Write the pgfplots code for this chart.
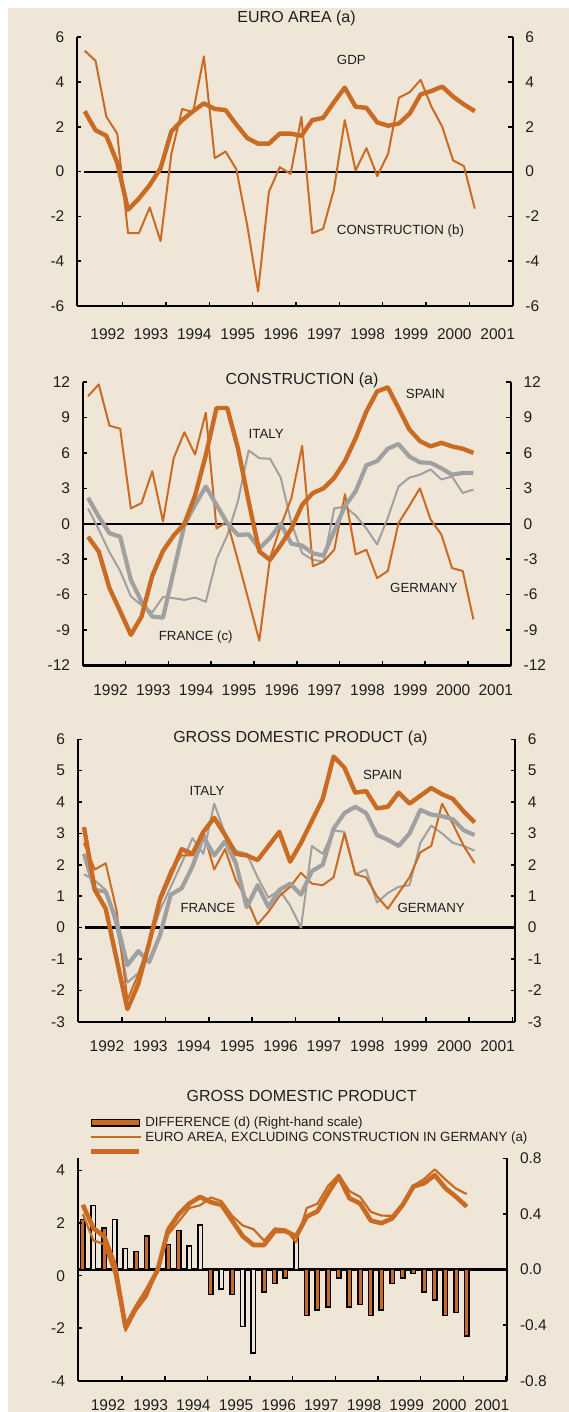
\documentclass[border=0pt]{standalone}
\usepackage{fontspec}
\setmainfont{Liberation Sans}
\usepackage{pgfplots}
\usepackage{pgfplotstable}
\pgfplotsset{compat=1.18}
\definecolor{bg}{HTML}{EFE6D8}
\definecolor{cOr}{HTML}{C96B22}
\definecolor{cGr}{HTML}{A0A0A0}
\definecolor{txt}{HTML}{1E1E1E}

\pgfplotstableread{
t gdp con
1992.125 2.7 5.4
1992.375 1.85 4.95
1992.625 1.6 2.45
1992.875 0.4 1.7
1993.125 -1.7 -2.75
1993.375 -1.2 -2.75
1993.625 -0.6 -1.6
1993.875 0.15 -3.1
1994.125 1.8 0.8
1994.375 2.3 2.8
1994.625 2.7 2.65
1994.875 3.05 5.15
1995.125 2.8 0.6
1995.375 2.75 0.9
1995.625 2.1 0.1
1995.875 1.5 -2.4
1996.125 1.25 -5.35
1996.375 1.25 -0.9
1996.625 1.7 0.2
1996.875 1.7 -0.1
1997.125 1.6 2.45
1997.375 2.3 -2.75
1997.625 2.4 -2.55
1997.875 3.1 -0.8
1998.125 3.75 2.3
1998.375 2.9 0.05
1998.625 2.85 1.05
1998.875 2.2 -0.2
1999.125 2.05 0.8
1999.375 2.15 3.3
1999.625 2.6 3.55
1999.875 3.45 4.1
2000.125 3.6 2.9
2000.375 3.8 2.0
2000.625 3.35 0.5
2000.875 3.0 0.25
2001.125 2.7 -1.65
}\tabA

\pgfplotstableread{
t ger spa fra ita
1992.125 10.8 -1.1 2.2 1.3
1992.375 11.8 -2.35 0.6 -0.5
1992.625 8.3 -5.45 -0.8 -2.4
1992.875 8.05 -7.4 -1.1 -4.0
1993.125 1.3 -9.4 -4.75 -6.15
1993.375 1.75 -7.85 -6.6 -6.9
1993.625 4.45 -4.4 -7.85 -7.5
1993.875 0.2 -2.3 -7.95 -6.2
1994.125 5.55 -1.0 -4.0 -6.3
1994.375 7.75 0.0 -0.1 -6.45
1994.625 5.85 2.4 1.6 -6.25
1994.875 9.4 5.8 3.15 -6.6
1995.125 -0.4 9.8 1.6 -3.0
1995.375 0.2 9.8 0.05 -1.0
1995.625 -3.1 6.4 -0.95 1.9
1995.875 -6.5 1.9 -0.9 6.2
1996.125 -9.9 -2.35 -2.1 5.55
1996.375 -2.9 -3.05 -1.2 5.5
1996.625 -0.2 -1.8 0.0 3.9
1996.875 2.2 -0.4 -1.7 0.05
1997.125 6.6 1.6 -1.85 -2.5
1997.375 -3.6 2.6 -2.5 -3.05
1997.625 -3.2 3.0 -2.7 -3.2
1997.875 -2.2 3.9 -0.6 1.3
1998.125 2.5 5.3 1.5 1.45
1998.375 -2.6 7.25 2.75 0.7
1998.625 -2.2 9.5 4.95 -0.4
1998.875 -4.6 11.2 5.3 -1.75
1999.125 -4.0 11.55 6.35 0.5
1999.375 0.05 9.8 6.75 3.15
1999.625 1.5 8.0 5.7 3.9
1999.875 3.0 7.0 5.2 4.15
2000.125 0.35 6.55 5.15 4.6
2000.375 -0.9 6.85 4.7 3.75
2000.625 -3.75 6.55 4.15 4.0
2000.875 -4.0 6.35 4.3 2.6
2001.125 -8.1 6.0 4.3 2.9
}\tabB

\pgfplotstableread{
t spa ger fra ita
1992.125 3.2 2.7 2.35 1.7
1992.375 1.2 1.85 1.2 1.5
1992.625 0.6 2.05 1.15 1.2
1992.875 -1.0 0.55 0.2 0.0
1993.125 -2.6 -2.3 -1.2 -1.75
1993.375 -1.8 -1.5 -0.75 -1.45
1993.625 -0.5 -0.5 -1.1 -0.5
1993.875 0.9 1.0 -0.25 0.55
1994.125 1.7 1.85 1.05 1.3
1994.375 2.5 2.3 1.25 2.05
1994.625 2.35 2.3 1.95 2.85
1994.875 3.05 3.05 2.9 2.35
1995.125 3.5 1.85 2.3 3.95
1995.375 2.95 2.5 2.75 3.0
1995.625 2.35 1.5 2.05 2.45
1995.875 2.3 0.9 0.65 2.35
1996.125 2.15 0.1 1.35 1.6
1996.375 2.6 0.5 0.65 0.95
1996.625 3.05 1.0 1.2 1.2
1996.875 2.1 1.3 1.4 0.7
1997.125 2.7 1.75 1.05 0.0
1997.375 3.4 1.4 1.8 2.6
1997.625 4.1 1.35 2.0 2.35
1997.875 5.45 1.6 3.15 3.1
1998.125 5.1 3.0 3.65 3.05
1998.375 4.3 1.7 3.85 1.7
1998.625 4.35 1.6 3.65 1.85
1998.875 3.8 1.0 2.95 0.8
1999.125 3.85 0.6 2.8 1.1
1999.375 4.3 1.1 2.6 1.3
1999.625 3.95 1.6 3.0 1.35
1999.875 4.2 2.4 3.75 2.7
2000.125 4.45 2.6 3.6 3.25
2000.375 4.25 3.95 3.55 3.0
2000.625 4.1 3.3 3.45 2.7
2000.875 3.7 2.6 3.1 2.6
2001.125 3.35 2.05 2.95 2.45
}\tabC

\pgfplotstableread{
t gdp exc
1992.08 2.7 2.34
1992.33 1.8 1.34
1992.58 1.5 1.2
1992.83 0.4 0.04
1993.08 -1.95 -2.1
1993.33 -1.2 -1.33
1993.58 -0.55 -0.79
1993.83 0.2 0.2
1994.08 1.75 1.57
1994.33 2.35 2.07
1994.58 2.75 2.58
1994.83 3.0 2.68
1995.08 2.8 2.98
1995.33 2.7 2.84
1995.58 2.1 2.28
1995.83 1.5 1.91
1996.08 1.17 1.77
1996.33 1.17 1.33
1996.58 1.7 1.8
1996.83 1.7 1.76
1997.08 1.5 1.27
1997.33 2.25 2.58
1997.58 2.45 2.74
1997.83 3.15 3.42
1998.08 3.78 3.84
1998.33 2.95 3.22
1998.58 2.75 3.0
1998.83 2.1 2.43
1999.08 2.0 2.29
1999.33 2.18 2.28
1999.58 2.7 2.76
1999.83 3.4 3.43
2000.08 3.52 3.68
2000.33 3.83 4.05
2000.58 3.33 3.66
2000.83 3.0 3.31
2001.08 2.63 3.11
}\tabD

\pgfplotsset{
  P/.style={scale only axis, clip=false,
    axis line style={black, line width=2.2pt},
    x axis line style={-}, y axis line style={-},
    tick align=inside, major tick length=4.5pt,
    tick style={black, line width=1.6pt},
    tick label style={text=txt, font=\fontsize{15.5}{16}\selectfont},
    /pgf/number format/assume math mode=true},
  PL/.style={P, axis x line*=bottom, axis y line*=left,
    xtick={1993,1994,...,2002},
    xticklabels={1992,1993,1994,1995,1996,1997,1998,1999,2000,2001},
    xticklabel style={anchor=north, inner sep=0pt, yshift=-19pt, xshift=-15pt},
    yticklabel style={anchor=east, inner sep=0pt, xshift=-12.5pt}},
  PR/.style={P, axis x line=none, axis y line*=right, xtick=\empty,
    yticklabel style={anchor=west, inner sep=0pt, xshift=12.5pt}},
  thickO/.style={cOr, line width=4.4pt, line join=round, no markers},
  thinO/.style={cOr, line width=2pt, line join=round, no markers},
  thickG/.style={cGr, line width=4.2pt, line join=round, no markers},
  thinG/.style={cGr, line width=2pt, line join=round, no markers},
  zl/.style={black, line width=2.2pt, no markers},
}
\tikzset{
  ttl/.style={anchor=base, inner sep=0pt, font=\fontsize{16}{17}\selectfont, text=txt},
  ann/.style={anchor=base west, inner sep=0pt, font=\fontsize{13.3}{14}\selectfont, text=txt},
}

\begin{document}
\begin{tikzpicture}[x=1pt,y=1pt]
\useasboundingbox (0,0) rectangle (569,-1412);
\fill[white] (0,0) rectangle (569,-1412);
\fill[bg] (8,-8) rectangle (569,-1412);

% ---------------- Panel 1 ----------------
\begin{axis}[PL, at={(77pt,-306pt)}, anchor=south west, width=435.7pt, height=268.7pt,
  xmin=1991.947, xmax=2002, ymin=-6, ymax=6,
  ytick={-6,-4,-2,0,2,4,6}, yticklabels={-6,-4,-2,0,2,4,6},
  xticklabel style={yshift=-3pt}]
\addplot[zl] coordinates {(1992.11,0) (2002,0)};
\addplot[thinO] table[x=t,y=con]{\tabA};
\addplot[thickO] table[x=t,y=gdp]{\tabA};
\end{axis}
\begin{axis}[PR, at={(77pt,-306pt)}, anchor=south west, width=435.7pt, height=268.7pt,
  xmin=1991.947, xmax=2002, ymin=-6, ymax=6,
  ytick={-6,-4,-2,0,2,4,6}, yticklabels={-6,-4,-2,0,2,4,6}]
\end{axis}
\node[ttl] at (296.6,-22.7) {EURO AREA (a)};
\node[ann] at (336.7,-65) {GDP};
\node[ann] at (336.7,-235) {CONSTRUCTION (b)};

% ---------------- Panel 2 ----------------
\begin{axis}[PL, at={(82.7pt,-665.5pt)}, anchor=south west, width=428.2pt, height=283.5pt,
  xmin=1992, xmax=2002, ymin=-12, ymax=12,
  ytick={-12,-9,-6,-3,0,3,6,9,12}, yticklabels={-12,-9,-6,-3,0,3,6,9,12}]
\addplot[zl] coordinates {(1992,0) (2002,0)};
\addplot[thinG] table[x=t,y=ita]{\tabB};
\addplot[thinO] table[x=t,y=ger]{\tabB};
\addplot[thickG] table[x=t,y=fra]{\tabB};
\addplot[thickO] table[x=t,y=spa]{\tabB};
\end{axis}
\begin{axis}[PR, at={(82.7pt,-665.5pt)}, anchor=south west, width=428.2pt, height=283.5pt,
  xmin=1992, xmax=2002, ymin=-12, ymax=12,
  ytick={-12,-9,-6,-3,0,3,6,9,12}, yticklabels={-12,-9,-6,-3,0,3,6,9,12}]
\end{axis}
\node[ttl] at (302,-384) {CONSTRUCTION (a)};
\node[ann] at (405.7,-398.3) {SPAIN};
\node[ann] at (248.5,-438.3) {ITALY};
\node[ann] at (390,-592.7) {GERMANY};
\node[ann] at (158.6,-640) {FRANCE (c)};

% ---------------- Panel 3 ----------------
\begin{axis}[PL, at={(77.7pt,-1021.7pt)}, anchor=south west, width=437.5pt, height=282.4pt,
  xmin=1991.98, xmax=2002.06, ymin=-3, ymax=6,
  ytick={-3,-2,-1,0,1,2,3,4,5,6}, yticklabels={-3,-2,-1,0,1,2,3,4,5,6}]
\addplot[zl] coordinates {(1992.15,0) (2002.06,0)};
\addplot[thinG] table[x=t,y=ita]{\tabC};
\addplot[thinO] table[x=t,y=ger]{\tabC};
\addplot[thickG] table[x=t,y=fra]{\tabC};
\addplot[thickO] table[x=t,y=spa]{\tabC};
\end{axis}
\begin{axis}[PR, at={(77.7pt,-1021.7pt)}, anchor=south west, width=437.5pt, height=282.4pt,
  xmin=1991.98, xmax=2002.06, ymin=-3, ymax=6,
  ytick={-3,-2,-1,0,1,2,3,4,5,6}, yticklabels={-3,-2,-1,0,1,2,3,4,5,6}]
\end{axis}
\node[ttl] at (300.4,-742.3) {GROSS DOMESTIC PRODUCT (a)};
\node[ann] at (362.8,-779.3) {SPAIN};
\node[ann] at (189.4,-795.3) {ITALY};
\node[ann] at (180.3,-912.7) {FRANCE};
\node[ann] at (397.3,-912.7) {GERMANY};

% ---------------- Panel 4 ----------------
\begin{axis}[PR, at={(77.7pt,-1380.7pt)}, anchor=south west, width=429.6pt, height=222.4pt,
  xmin=1991.96, xmax=2002.03, ymin=-0.8, ymax=0.8,
  ytick={-0.8,-0.4,0,0.4,0.8}, yticklabels={-0.8,-0.4,0.0,0.4,0.8}]
\addplot[zl] coordinates {(1991.96,0) (2002.03,0)};
\addplot[ybar, bar width=4.5pt, fill=cOr, draw=black, line width=1.5pt] coordinates {
(1992.08,0.36) (1992.58,0.30) (1993.33,0.13) (1993.58,0.24) (1994.08,0.18) (1994.33,0.28)
(1995.08,-0.18) (1995.58,-0.18) (1996.33,-0.16) (1996.58,-0.10) (1996.83,-0.06)
(1997.33,-0.33) (1997.58,-0.29) (1997.83,-0.27) (1998.08,-0.06) (1998.33,-0.27)
(1998.58,-0.25) (1998.83,-0.33) (1999.08,-0.29) (1999.33,-0.10) (1999.58,-0.06)
(1999.83,-0.03) (2000.08,-0.16) (2000.33,-0.22) (2000.58,-0.33) (2000.83,-0.31) (2001.08,-0.48)};
\addplot[ybar, bar width=4.5pt, fill=bg, draw=black, line width=1.5pt] coordinates {
(1992.33,0.46) (1992.83,0.36) (1993.08,0.15) (1994.58,0.17) (1994.83,0.32)
(1995.33,-0.14) (1995.83,-0.41) (1996.08,-0.60) (1997.08,0.23)};
\end{axis}
\begin{axis}[PL, at={(77.7pt,-1380.7pt)}, anchor=south west, width=429.6pt, height=222.4pt,
  xmin=1991.96, xmax=2002.03, ymin=-4, ymax=4.47,
  ytick={-4,-2,0,2,4}, yticklabels={-4,-2,0,2,4},
  xticklabel style={xshift=1pt},
  legend cell align=left,
  legend style={at={(0.026,1.185)}, anchor=north west, draw=none, fill=none,
    font=\fontsize{13.3}{14}\selectfont, text=txt, inner sep=0pt, outer sep=0pt,
    row sep=3.3pt, nodes={inner xsep=3.25pt, inner ysep=0pt}}]
\addlegendimage{legend image code/.code={\draw[fill=cOr,draw=black,line width=1.5pt] (0pt,-3.2pt) rectangle (48.3pt,3.2pt);}}
\addlegendentry{DIFFERENCE (d) (Right-hand scale)}
\addlegendimage{legend image code/.code={\draw[cOr,line width=2pt] (0pt,0pt) -- (49.7pt,0pt);}}
\addlegendentry{EURO AREA, EXCLUDING CONSTRUCTION IN GERMANY (a)}
\addlegendimage{legend image code/.code={\draw[cOr,line width=5pt] (0pt,0pt) -- (48pt,0pt);}}
\addlegendentry{\vphantom{(}}
\addplot[thickO, line width=4.6pt, forget plot] table[x=t,y=gdp]{\tabD};
\addplot[thinO, line width=2.2pt, forget plot] table[x=t,y=exc]{\tabD};
\end{axis}
\node[ttl] at (301.7,-1101.7) {GROSS DOMESTIC PRODUCT};
\end{tikzpicture}
\end{document}
